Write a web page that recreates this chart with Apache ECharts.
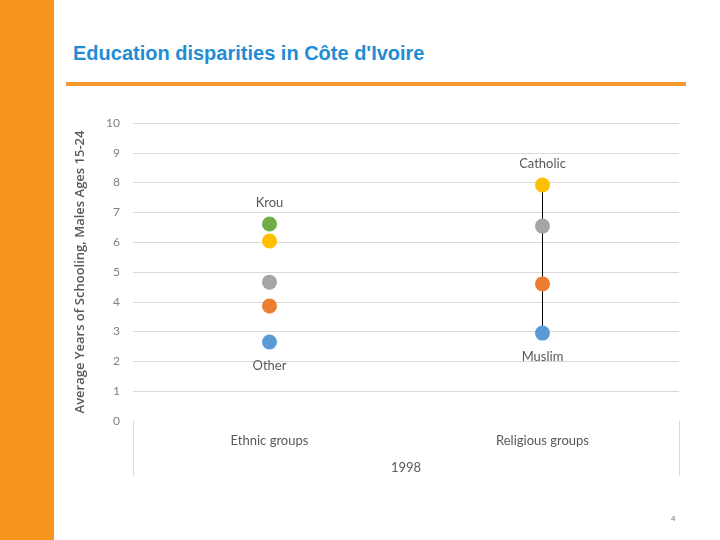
<!DOCTYPE html>
<html>
<head>
<meta charset="utf-8">
<script src="https://cdn.jsdelivr.net/npm/echarts@6/dist/echarts.min.js"></script>
<style>
html,body{margin:0;padding:0;background:#fff;}
#wrap{position:relative;width:720px;height:540px;overflow:hidden;}
#bar{position:absolute;left:0;top:0;width:54px;height:540px;background:#F7941D;}
#title{position:absolute;left:73px;top:41px;font-family:"Liberation Sans",Arial,sans-serif;font-weight:bold;font-size:20px;line-height:24px;color:#1F8DD6;white-space:nowrap;}
#rule{position:absolute;left:66px;top:82px;width:620px;height:4px;background:#F29A2E;}
#pg{position:absolute;left:671px;top:514px;font-family:"Liberation Sans",Arial,sans-serif;font-size:8px;color:#777;}
#chart{position:absolute;left:0;top:0;width:720px;height:540px;}
</style>
</head>
<body>
<div id="wrap">
<div id="bar"></div>
<div id="title">Education disparities in Côte d'Ivoire</div>
<div id="rule"></div>
<div id="chart"></div>
<div id="pg">4</div>
</div>
<script>
const categories = ['Ethnic groups', 'Religious groups'];
const yearLabel = '1998';
const yTicks = [0, 10, 1];
const blueVals = [2.65, 2.95];
const orangeVals = [3.86, 4.60];
const grayVals = [4.66, 6.54];
const yellowVals = [6.04, 7.92];
const greenVals = [6.61, null];
const rangeReligious = [7.92, 2.95];
const pointLabels = { green: ['Krou', ''], yellow: ['', 'Catholic'], blue: ['Other', 'Muslim'] };

const chart = echarts.init(document.getElementById('chart'));
const labelFont = { fontFamily: 'Lato, "Open Sans", sans-serif', fontSize: 13, color: '#595959' };

function mk(name, vals, color, labels, pos) {
  return {
    type: 'scatter', name: name, xAxisIndex: 0, symbolSize: 15, z: 5,
    itemStyle: { color: color, opacity: 1 },
    data: vals.map((v, i) => {
      const d = { value: v };
      if (labels && labels[i]) {
        const p = pos ? pos[i] : 'top';
        d.label = Object.assign({ show: true, formatter: labels[i], position: p, distance: p === 'bottom' ? 10 : 7 }, labelFont);
      }
      return d;
    })
  };
}

const gridColors = [];
for (let i = 0; i <= (yTicks[1] - yTicks[0]) / yTicks[2]; i++) gridColors.push(i === 0 ? 'rgba(0,0,0,0)' : '#D9D9D9');

chart.setOption({
  animation: false,
  grid: { left: 133, right: 41, top: 123, bottom: 119 },
  xAxis: [
    {
      type: 'category', data: categories, boundaryGap: true,
      axisLine: { show: false }, axisTick: { show: false },
      axisLabel: Object.assign({ margin: 13 }, labelFont, { fontSize: 13, color: '#595959' })
    },
    {
      type: 'value', min: 0, max: 1, interval: 1, position: 'bottom',
      axisLine: { show: false }, splitLine: { show: false },
      axisTick: { show: true, length: 55, lineStyle: { color: '#D9D9D9' } },
      axisLabel: { show: false },
      name: yearLabel, nameLocation: 'middle', nameGap: 40,
      nameTextStyle: Object.assign({}, labelFont, { fontSize: 13, color: '#595959' })
    }
  ],
  yAxis: {
    type: 'value', min: yTicks[0], max: yTicks[1], interval: yTicks[2],
    axisLine: { show: false }, axisTick: { show: false },
    axisLabel: Object.assign({ margin: 13 }, labelFont, { fontSize: 12, color: '#7F7F7F' }),
    splitLine: { lineStyle: { color: gridColors, width: 1 } },
    name: 'Average Years of Schooling, Males Ages 15-24',
    nameLocation: 'middle', nameGap: 46, nameRotate: 90,
    nameTextStyle: { fontFamily: '"Open Sans", "Liberation Sans", sans-serif', fontSize: 13, fontWeight: 600, color: '#595959' }
  },
  series: [
    {
      type: 'line', xAxisIndex: 0, z: 2, symbol: 'none',
      lineStyle: { color: '#000', width: 1 },
      data: rangeReligious.map(v => [1, v])
    },
    mk('blue', blueVals, '#5B9BD5', pointLabels.blue, ['bottom', 'bottom']),
    mk('orange', orangeVals, '#ED7D31'),
    mk('gray', grayVals, '#A5A5A5'),
    mk('yellow', yellowVals, '#FFC000', pointLabels.yellow),
    mk('green', greenVals, '#70AD47', pointLabels.green)
  ]
});
</script>
</body>
</html>
